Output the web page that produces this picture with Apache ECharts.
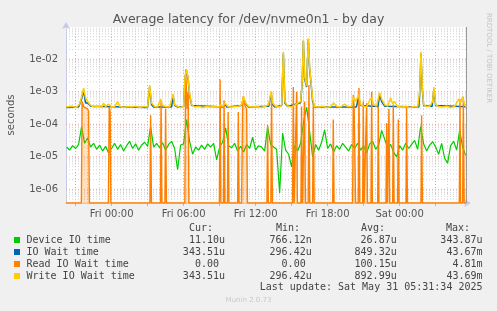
<!DOCTYPE html>
<html><head><meta charset="utf-8">
<script src="https://cdn.jsdelivr.net/npm/echarts@6/dist/echarts.min.js"></script>
<style>html,body{margin:0;padding:0;background:#f0f0f0}#c{width:497px;height:311px}</style>
</head><body><div id="c"></div>
<script>
const titleText = 'Average latency for /dev/nvme0n1 - by day';
const xLabelHours = [0, 6, 12, 18, 24];
const xLabelTexts = ['Fri 00:00', 'Fri 06:00', 'Fri 12:00', 'Fri 18:00', 'Sat 00:00'];
const timeMin = -3.8, timeMax = 29.53;   // hours relative to Fri 00:00
const yMin = 3.8e-7, yMax = 0.098;

// Device IO time: 15-minute samples starting at deviceStart (hours)
const deviceStart = -3.75, deviceStep = 0.25;
const deviceVals = [
2.0e-5,1.6e-5,2.2e-5,1.8e-5,2.4e-5,8.5e-5,2.6e-5,3.8e-5,2.0e-5,2.6e-5,
1.7e-5,2.3e-5,1.5e-5,2.1e-5,1.3e-5,1.8e-5,2.6e-5,1.7e-5,2.4e-5,1.5e-5,
2.2e-5,3.0e-5,1.8e-5,2.5e-5,1.6e-5,2.3e-5,2.8e-5,2.1e-5,8.5e-5,2.0e-5,
2.6e-5,1.9e-5,2.7e-5,1.6e-5,2.4e-5,3.0e-5,1.8e-5,4.0e-6,2.3e-5,2.5e-5,
1.4e-4,3.0e-5,1.2e-5,2.0e-5,1.6e-5,2.3e-5,1.7e-5,2.5e-5,2.0e-5,2.6e-5,
8.0e-6,2.0e-5,2.8e-5,7.6e-5,2.2e-5,1.9e-5,2.6e-5,1.5e-5,2.1e-5,1.4e-5,
2.4e-5,1.8e-5,4.0e-5,1.6e-5,2.2e-5,2.0e-5,1.5e-5,8.5e-5,2.4e-5,2.0e-5,
1.7e-5,7.7e-7,5.4e-5,1.6e-5,1.2e-5,4.9e-6,2.2e-5,1.5e-5,2.6e-5,1.2e-4,
3.4e-4,6.0e-5,1.0e-5,2.4e-5,1.6e-5,2.8e-5,6.7e-5,1.8e-5,2.5e-5,1.4e-5,
2.2e-5,1.7e-5,2.6e-5,2.0e-5,1.5e-5,2.4e-5,1.8e-5,2.6e-5,1.6e-5,2.2e-5,
1.3e-5,2.5e-5,3.0e-5,1.7e-5,2.3e-5,6.5e-5,3.5e-5,1.9e-5,2.4e-5,1.4e-5,
1.0e-5,2.2e-5,1.6e-5,2.6e-5,1.8e-5,2.4e-5,3.2e-5,1.7e-5,8.5e-5,2.5e-5,
1.5e-5,2.3e-5,2.9e-5,2.0e-5,1.2e-5,2.6e-5,9.0e-6,6.4e-6,2.2e-5,3.0e-5,
1.6e-5,6.5e-5,2.0e-5,1.11e-5
];

// IO Wait time
const ioWaitTimes = [-3.8,-2.75,-2.5,-2.33,-2.17,-2.0,-1.75,3.0,3.17,3.33,3.5,5.0,5.12,5.25,5.5,
6.0,6.12,6.25,6.38,6.5,6.67,9.3,9.42,9.6,10.83,11.0,11.17,11.4,13.1,13.29,13.42,13.6,
14.17,14.31,14.44,14.67,15.75,15.88,15.98,16.08,16.25,16.39,16.5,16.62,16.75,16.92,
20.4,20.58,20.75,22.2,22.33,22.5,22.75,25.6,25.67,25.78,25.89,26.0,26.7,26.86,27.0,29.53];
const ioWaitVals = [3.3e-4,3.4e-4,6e-4,1.1e-3,4.5e-4,4.6e-4,3.6e-4,3.3e-4,1.4e-3,4e-4,3.4e-4,3.4e-4,7.5e-4,3.8e-4,3.4e-4,
3.5e-4,2.8e-3,4.4e-3,2.3e-3,8e-4,3.8e-4,3.4e-4,4.3e-4,3.4e-4,3.8e-4,6.5e-4,4.3e-4,3.4e-4,3.6e-4,9e-4,4e-4,3.4e-4,
3.8e-4,1.5e-2,4.5e-4,3.5e-4,4.6e-4,1.8e-3,3.6e-2,2.5e-3,1.4e-3,4e-2,5e-3,1.8e-3,5e-4,3.4e-4,
3.4e-4,7e-4,3.8e-4,3.5e-4,8.5e-4,5e-4,3.6e-4,3.4e-4,9e-4,1.5e-2,1.2e-3,3.8e-4,3.5e-4,1.2e-3,3.8e-4,3.435e-4];

// Read IO Wait time (0 = no reads)
const readTimes = [-3.8,
-2.52,-2.46,-2.33,-2.17,-2.0,-1.92,-1.85,
-0.27,-0.2,-0.12,-0.06,
3.19,3.25,3.32, 4.07,4.12,4.19, 4.44,4.5,4.57,
6.1,6.17,6.29,6.38,6.44,
8.98,9.04,9.11, 9.32,9.37,9.44, 9.65,9.71,9.78,
10.5,10.56,10.62, 10.83,10.92,10.98,11.08,11.25,11.32,
12.94,13.0,13.06, 13.27,13.33,13.4,
15.08,15.14,15.21, 15.36,15.42,15.48, 15.78,15.83,15.9, 16.03,16.08,16.15,
16.38,16.44,16.51, 16.75,16.81,16.88, 18.42,18.47,18.54,
20.08,20.14,20.21,20.28,20.33, 20.55,20.61,20.68, 20.92,20.97,21.04,
21.19,21.25,21.32, 21.61,21.67,21.73, 22.17,22.22,22.28,
22.86,22.92,22.98, 23.07,23.11,23.17, 23.42,23.47,23.54, 23.83,23.89,23.95,
24.53,24.58,24.65, 25.78,25.83,25.9, 28.97,29.03,29.08, 29.25,29.31,29.38,
29.53];
const readVals = [0,
0,5e-4,3.5e-4,4e-4,3e-4,2.5e-4,0,
0,3.4e-4,2.5e-4,0,
0,1.9e-4,0, 0,5.6e-4,0, 0,3e-4,0,
0,4.81e-3,3e-4,1e-3,0,
0,2.4e-3,0, 0,5.5e-4,0, 0,2.4e-4,0,
0,2.4e-4,0, 0,5e-4,7.4e-4,4e-4,3e-4,0,
0,9.5e-5,0, 0,1e-3,0,
0,1.4e-3,0, 0,1e-3,0, 0,3.5e-4,0, 0,5e-4,0,
0,1.6e-3,0, 0,5e-4,0, 0,1.4e-4,0,
0,8e-4,3e-4,3e-4,0, 0,1.3e-3,0, 0,5e-4,0,
0,4.5e-4,0, 0,1e-3,0, 0,3.5e-4,0,
0,1.1e-4,0, 0,3e-4,0, 0,4e-4,0, 0,1.4e-4,0,
0,3.3e-4,0, 0,1.9e-4,0, 0,6e-4,0, 0,7e-4,0,
0];

// Write IO Wait time
const writeTimes = [-3.8,-3.33,-2.92,-2.67,-2.5,-2.33,-2.17,-2.0,-1.75,-1.42,-1.08,-0.83,-0.67,-0.5,-0.25,
0,0.25,0.5,0.67,1.0,1.33,1.67,2.0,2.33,2.67,3.0,3.17,3.33,3.58,3.83,4.08,4.25,4.5,4.83,5.12,5.25,5.5,5.75,
6.0,6.12,6.25,6.38,6.5,6.67,6.92,7.25,7.58,7.92,8.25,8.58,8.92,9.08,9.25,9.42,9.67,9.92,10.25,10.58,10.83,
11.0,11.17,11.42,11.75,12.08,12.42,12.75,13.08,13.29,13.42,13.67,14.0,14.17,14.31,14.44,14.67,15.0,15.25,
15.5,15.75,15.88,15.98,16.08,16.25,16.39,16.5,16.62,16.75,16.92,17.25,17.58,17.92,18.25,18.5,18.75,19.08,
19.42,19.67,20.0,20.17,20.33,20.58,20.75,21.0,21.25,21.5,21.67,21.83,22.08,22.33,22.5,22.75,23.0,23.25,
23.42,23.58,23.83,24.17,24.5,24.83,25.17,25.5,25.67,25.78,25.89,26.0,26.25,26.5,26.75,26.86,27.0,27.25,
27.58,27.92,28.25,28.58,28.92,29.08,29.25,29.42,29.53];
const writeVals = [3.4e-4,3.6e-4,3.3e-4,4.2e-4,7e-4,1.3e-3,6.5e-4,5e-4,3.8e-4,3.4e-4,3.6e-4,3.3e-4,4.5e-4,3.5e-4,4.2e-4,
3.4e-4,3.5e-4,5e-4,3.6e-4,3.3e-4,3.5e-4,3.4e-4,3.6e-4,3.3e-4,3.5e-4,3.4e-4,1.6e-3,4.5e-4,3.5e-4,3.4e-4,6e-4,3.8e-4,3.5e-4,3.4e-4,8.5e-4,4e-4,3.5e-4,3.3e-4,
3.6e-4,3.0e-3,4.9e-3,2.5e-3,9e-4,4e-4,3.4e-4,3.6e-4,3.3e-4,3.5e-4,3.4e-4,3.6e-4,3.4e-4,4e-4,3.5e-4,4.5e-4,3.6e-4,3.4e-4,3.5e-4,3.6e-4,4e-4,
7e-4,4.5e-4,3.5e-4,3.4e-4,3.6e-4,3.3e-4,3.5e-4,4e-4,1e-3,4.5e-4,3.5e-4,3.4e-4,4e-4,1.7e-2,5e-4,3.6e-4,3.4e-4,3.8e-4,
4.5e-4,5e-4,2e-3,3.9e-2,3e-3,1.5e-3,4.4e-2,6e-3,2e-3,6e-4,3.5e-4,3.4e-4,3.6e-4,3.3e-4,3.5e-4,4.5e-4,3.6e-4,3.4e-4,
4.2e-4,3.5e-4,3.6e-4,7e-4,5e-4,8e-4,4e-4,3.6e-4,3.4e-4,5.5e-4,6.5e-4,4e-4,3.6e-4,9.4e-4,6e-4,4e-4,3.6e-4,6.5e-4,
4.2e-4,5e-4,3.5e-4,3.4e-4,3.6e-4,3.3e-4,3.5e-4,3.4e-4,1e-3,1.7e-2,1.5e-3,4e-4,3.5e-4,3.6e-4,5e-4,1.4e-3,4e-4,3.5e-4,
3.4e-4,3.6e-4,3.3e-4,3.5e-4,6e-4,4.5e-4,7e-4,4e-4,3.435e-4];

const legendNames = ['Device IO time', 'IO Wait time', 'Read IO Wait time', 'Write IO Wait time'];
const legendColors = ['#00cc00', '#0066b3', '#ff8000', '#ffcc00'];
const curVals = ['11.10u', '343.51u', '0.00 ', '343.51u'];
const minVals = ['766.12n', '296.42u', '0.00 ', '296.42u'];
const avgVals = ['26.87u', '849.32u', '100.15u', '892.99u'];
const maxVals = ['343.87u', '43.67m', '4.81m', '43.69m'];
const lastUpdate = 'Last update: Sat May 31 05:31:34 2025';

// ---- build ----
const pairs = (ts, vs) => ts.map((t, i) => [t, vs[i]]);
const deviceData = deviceVals.map((v, i) => [deviceStart + i * deviceStep, v]);
const readData = readTimes.map((t, i) => [t, readVals[i] > 0 ? readVals[i] : yMin]);

const MAJ = '#f0a0a0', MIN = '#d4d4d4';
const vLines = [];
for (let h = Math.ceil(timeMin); h <= Math.floor(timeMax); h++) {
  const major = ((h % 3) + 3) % 3 === 0;
  vLines.push({ xAxis: h, lineStyle: { color: major ? MAJ : MIN, type: [1, 2], width: 1 } });
}
vLines.push({ xAxis: timeMax, lineStyle: { color: '#999', type: 'solid', width: 1 } });

const hGridSeries = [];
for (let e = -7; e <= -1; e++) {
  for (let m = 1; m <= 9; m++) {
    const v = m * Math.pow(10, e);
    if (v > yMin && v < yMax) {
      hGridSeries.push({
        type: 'line', silent: true, z: 1, showSymbol: false, symbol: 'none',
        data: [[timeMin, v], [timeMax, v]],
        lineStyle: { color: m === 1 ? MAJ : MIN, type: [1, 2], width: 1 },
        emphasis: { disabled: true }, tooltip: { show: false }
      });
    }
  }
}

const mono = 'DejaVu Sans Mono';
const graphics = [
  { type: 'text', x: 248.5, y: 20, style: { text: titleText, font: '12.5px "DejaVu Sans"', fill: '#555', align: 'center', verticalAlign: 'middle' } },
  { type: 'text', x: 11, y: 115, rotation: Math.PI / 2, style: { text: 'seconds', font: '10px "DejaVu Sans"', fill: '#555', align: 'center', verticalAlign: 'middle' } },
  { type: 'text', x: 488.5, y: 58, rotation: -Math.PI / 2, style: { text: 'RRDTOOL / TOBI OETIKER', font: '7px "DejaVu Sans"', fill: '#c4c4c4', align: 'center', verticalAlign: 'middle' } },
  { type: 'text', x: 213, y: 228.5, style: { text: 'Cur:', font: '10px "' + mono + '"', fill: '#444', align: 'right', verticalAlign: 'middle' } },
  { type: 'text', x: 300, y: 228.5, style: { text: 'Min:', font: '10px "' + mono + '"', fill: '#444', align: 'right', verticalAlign: 'middle' } },
  { type: 'text', x: 385, y: 228.5, style: { text: 'Avg:', font: '10px "' + mono + '"', fill: '#444', align: 'right', verticalAlign: 'middle' } },
  { type: 'text', x: 470, y: 228.5, style: { text: 'Max:', font: '10px "' + mono + '"', fill: '#444', align: 'right', verticalAlign: 'middle' } },
  { type: 'text', x: 482.5, y: 287.5, style: { text: lastUpdate, font: '10px "' + mono + '"', fill: '#444', align: 'right', verticalAlign: 'middle' } },
  { type: 'text', x: 248.5, y: 300, style: { text: 'Munin 2.0.73', font: '7px "DejaVu Sans"', fill: '#c8c8c8', align: 'center', verticalAlign: 'middle' } }
];
legendNames.forEach((name, i) => {
  const y = 240 + i * 12;
  graphics.push({ type: 'rect', shape: { x: 14, y: y - 3, width: 6, height: 6 }, style: { fill: legendColors[i] } });
  graphics.push({ type: 'text', x: 26.5, y: y, style: { text: name, font: '10px "' + mono + '"', fill: '#444', align: 'left', verticalAlign: 'middle' } });
  [[curVals, 225], [minVals, 311.7], [avgVals, 396.7], [maxVals, 482.5]].forEach(([arr, xr]) => {
    graphics.push({ type: 'text', x: xr, y: y, style: { text: arr[i], font: '10px "' + mono + '"', fill: '#444', align: 'right', verticalAlign: 'middle' } });
  });
});

const axisColor = '#c4c8ec';
const chart = echarts.init(document.getElementById('c'), null, { renderer: 'canvas' });
chart.setOption({
  animation: false,
  backgroundColor: '#f0f0f0',
  grid: { left: 66, right: 31, top: 27, bottom: 108, show: true, backgroundColor: '#ffffff', borderWidth: 0 },
  xAxis: {
    type: 'value', min: timeMin, max: timeMax,
    axisLine: { show: true, onZero: false, lineStyle: { color: axisColor, width: 1 }, symbol: ['none', 'arrow'], symbolSize: [6, 7], symbolOffset: [0, 5] },
    axisTick: { show: true, customValues: [-3, 0, 3, 6, 9, 12, 15, 18, 21, 24, 27], length: 3, lineStyle: { color: MAJ } },
    axisLabel: {
      customValues: xLabelHours, margin: 6, color: '#555', fontSize: 10, fontFamily: 'DejaVu Sans',
      formatter: v => { const i = xLabelHours.indexOf(Math.round(v)); return i >= 0 ? xLabelTexts[i] : ''; }
    },
    splitLine: { show: false }
  },
  yAxis: {
    type: 'log', logBase: 10, min: yMin, max: yMax,
    axisLine: { show: true, onZero: false, lineStyle: { color: axisColor, width: 1 }, symbol: ['none', 'arrow'], symbolSize: [6, 7], symbolOffset: [0, 5] },
    axisTick: { show: false },
    axisLabel: {
      margin: 8, color: '#555', fontSize: 10, fontFamily: 'DejaVu Sans', showMinLabel: false, showMaxLabel: false,
      formatter: v => {
        const e = Math.log10(v);
        if (Math.abs(e - Math.round(e)) > 1e-6) return '';
        const n = Math.round(e);
        return '1e' + (n < 0 ? '-' : '+') + String(Math.abs(n)).padStart(2, '0');
      }
    },
    splitLine: { show: false }
  },
  series: hGridSeries.concat([
    { type: 'line', data: [], silent: true,
      markLine: { silent: true, symbol: ['none', 'none'], z: 1, label: { show: false }, emphasis: { disabled: true }, animation: false, data: vLines } },
    { name: legendNames[0], type: 'line', data: deviceData, showSymbol: false, z: 3, lineStyle: { color: legendColors[0], width: 1.2 }, itemStyle: { color: legendColors[0] } },
    { name: legendNames[1], type: 'line', data: pairs(ioWaitTimes, ioWaitVals), showSymbol: false, z: 3, lineStyle: { color: legendColors[1], width: 1.5 }, itemStyle: { color: legendColors[1] } },
    { name: legendNames[2], type: 'line', data: readData, showSymbol: false, z: 4, lineStyle: { color: legendColors[2], width: 1.4 }, itemStyle: { color: legendColors[2] },
      areaStyle: { color: 'rgba(255,128,0,0.35)', origin: 'start' } },
    { name: legendNames[3], type: 'line', data: pairs(writeTimes, writeVals), showSymbol: false, z: 5, lineStyle: { color: legendColors[3], width: 1.5 }, itemStyle: { color: legendColors[3] } }
  ]),
  graphic: graphics
});
</script>
</body></html>
